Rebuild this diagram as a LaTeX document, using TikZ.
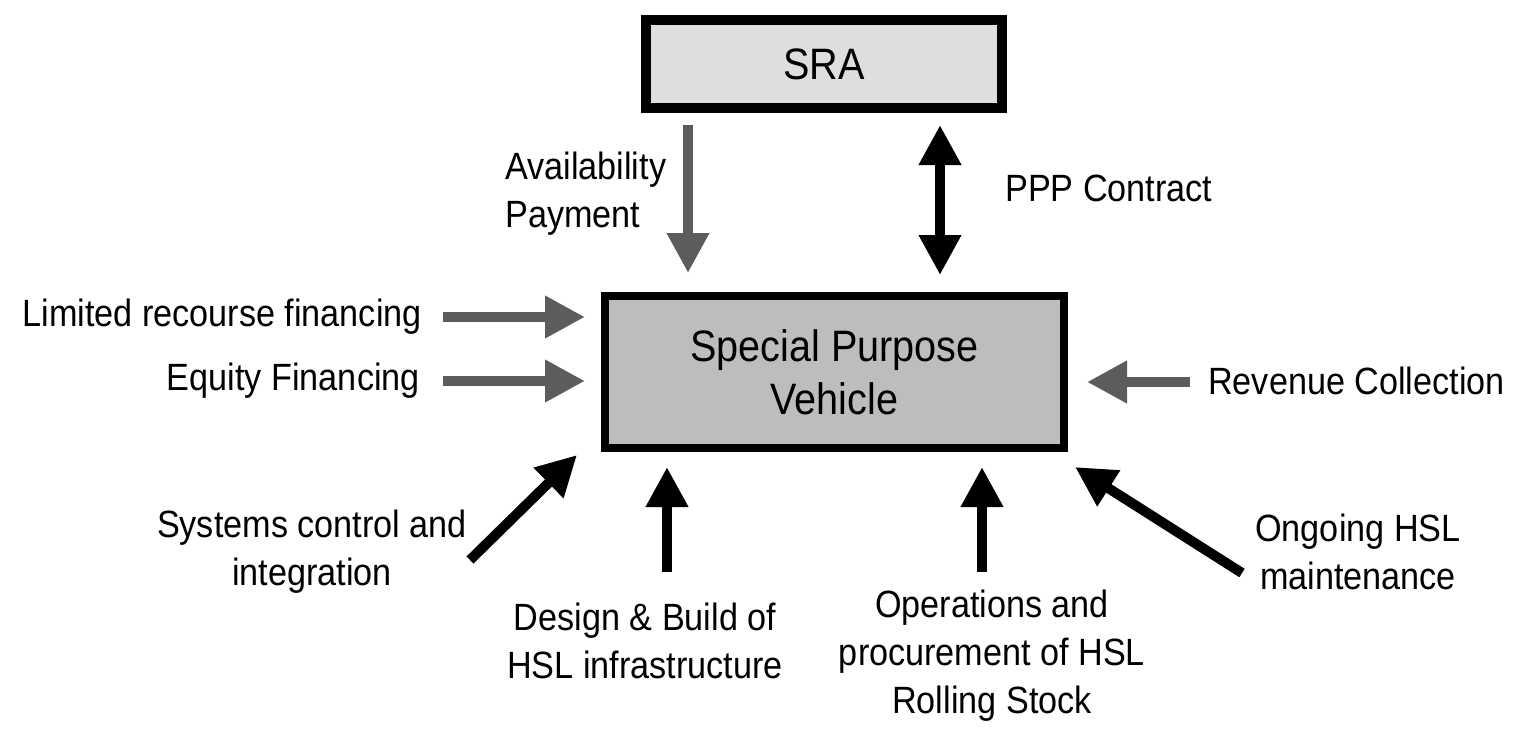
\documentclass[tikz,border=0pt]{standalone}
\usepackage{fontspec}
\setmainfont{Liberation Sans}[FakeStretch=0.9]
\usetikzlibrary{arrows.meta}
\definecolor{arrgray}{HTML}{5C5C5C}
\definecolor{srafill}{HTML}{DEDEDE}
\definecolor{spvfill}{HTML}{BDBDBD}
\begin{document}
\begin{tikzpicture}[x=1pt,y=-1pt,
  lbl/.style={inner sep=0pt, font=\fontsize{38}{48}\selectfont},
  boxtext/.style={font=\fontsize{44}{55}\selectfont, align=center},
  blk/.style={line width=10pt, draw=black, -{Triangle[length=40pt,width=40pt]}},
  gry/.style={line width=10pt, draw=arrgray, -{Triangle[length=40pt,width=40pt]}},
  dbl/.style={line width=10pt, draw=black, {Triangle[length=40pt,width=40pt]}-{Triangle[length=40pt,width=40pt]}}]
\useasboundingbox (0,0) rectangle (1514,736);
\fill[white] (0,0) rectangle (1514,736);

% boxes
\node[draw=black, line width=10pt, fill=srafill, minimum width=356pt, minimum height=88pt, inner sep=0pt, boxtext] (sra) at (824,64) {SRA};
\node[draw=black, line width=8pt, fill=spvfill, minimum width=459pt, minimum height=152pt, inner sep=0pt, boxtext] (spv) at (834.5,372) {Special Purpose\\[-2pt]Vehicle};

% labels
\node[lbl, anchor=west, align=left] (avail) at (505,194) {Availability\\Payment};
\node[lbl, anchor=west] (ppp) at (1005,188) {PPP Contract};
\node[lbl, anchor=east] (lim) at (422,317) {Limited recourse financing};
\node[lbl, anchor=east] (eq) at (420,381) {Equity Financing};
\node[lbl, anchor=west] (rev) at (1208,381) {Revenue Collection};
\node[lbl, align=center] (sys) at (312,552) {Systems control and\\integration};
\node[lbl, align=center] (des) at (645,641) {Design \& Build of\\HSL infrastructure};
\node[lbl, align=center] (ops) at (992,656) {Operations and\\procurement of HSL\\Rolling Stock};
\node[lbl, align=center] (ong) at (1358,552) {Ongoing HSL\\maintenance};

% free ends
\coordinate (avtop) at (688,125);
\coordinate (avtip) at (688,273);
\coordinate (pptop) at (940,125);
\coordinate (ppbot) at (940,275);
\coordinate (limtail) at (443,317);
\coordinate (limtip) at (585,317);
\coordinate (eqtail) at (443,381);
\coordinate (eqtip) at (585,381);
\coordinate (revtail) at (1190,382);
\coordinate (revtip) at (1087,382);
\coordinate (systail) at (470,560);
\coordinate (systip) at (577,455);
\coordinate (destail) at (667,572);
\coordinate (destip) at (667,467);
\coordinate (opstail) at (982,572);
\coordinate (opstip) at (982,467);
\coordinate (ongtail) at (1242,573);
\coordinate (ongtip) at (1075,467);

% connectors
\draw[gry] (avtop) -- (avtip);
\draw[dbl] (pptop) -- (ppbot);
\draw[gry] (limtail) -- (limtip);
\draw[gry] (eqtail) -- (eqtip);
\draw[gry] (revtail) -- (revtip);
\draw[blk] (systail) -- (systip);
\draw[blk] (destail) -- (destip);
\draw[blk] (opstail) -- (opstip);
\draw[blk] (ongtail) -- (ongtip);
\end{tikzpicture}
\end{document}
